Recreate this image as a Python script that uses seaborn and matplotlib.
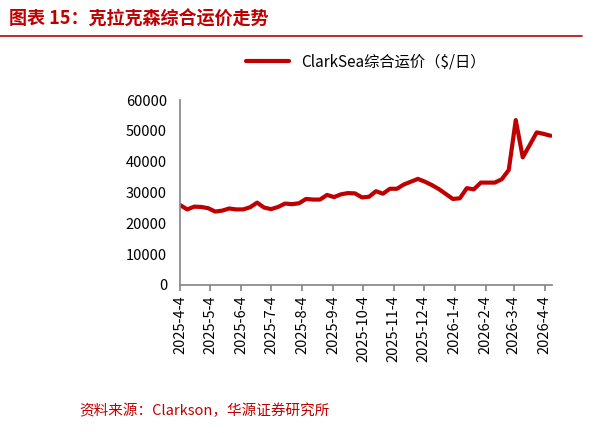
import numpy as np
import pandas as pd
import matplotlib
matplotlib.use("Agg")
import matplotlib.pyplot as plt
import seaborn as sns

# ── data ──────────────────────────────────────────────────────────────────────
dates = pd.date_range("2025-04-04", periods=54, freq="7D")
values = [25900, 24500, 25400, 25300, 24900, 23800, 24100, 24800, 24500, 24500,
          25200, 26700, 25100, 24600, 25300, 26400, 26200, 26500, 27900, 27700,
          27700, 29200, 28500, 29400, 29800, 29700, 28400, 28600, 30400, 29600,
          31200, 31200, 32600, 33500, 34400, 33500, 32400, 31100, 29500, 27900,
          28100, 31400, 31000, 33200, 33200, 33200, 34300, 37300, 53500, 41400,
          45400, 49500, 49000, 48400]
tick_labels = ["2025-4-4", "2025-5-4", "2025-6-4", "2025-7-4", "2025-8-4",
               "2025-9-4", "2025-10-4", "2025-11-4", "2025-12-4", "2026-1-4",
               "2026-2-4", "2026-3-4", "2026-4-4"]
tick_dates = pd.to_datetime(tick_labels, format="%Y-%m-%d")
series_name = "ClarkSea综合运价（$/日）"

df = pd.DataFrame({"date": dates, "value": values})

sns.set_theme(style="white")
plt.rcParams["font.family"] = ["Noto Sans CJK SC", "DejaVu Sans"]
RED = "#C00000"

fig = plt.figure(figsize=(6.13, 4.33), dpi=100)
ax = fig.add_axes([0.294, 0.342, 0.606, 0.427])
sns.lineplot(data=df, x="date", y="value", ax=ax, color=RED, lw=3, label=series_name)

ax.set_ylim(0, 60000)
ax.set_yticks(range(0, 60001, 10000))
ax.set_xlim(dates[0], dates[-1] + pd.Timedelta(days=1))
ax.set_xticks(tick_dates)
ax.set_xticklabels(tick_labels, rotation=90, fontsize=10.5, color="black")
ax.tick_params(axis="y", labelsize=10.5, labelcolor="black")
ax.tick_params(axis="x", direction="out", length=4, color="#888888", bottom=True)
ax.set_xlabel("")
ax.set_ylabel("")
for s in ["top", "right"]:
    ax.spines[s].set_visible(False)
for s in ["left", "bottom"]:
    ax.spines[s].set_color("#888888")
leg = ax.legend(loc="center", bbox_to_anchor=(0.5, 1.206), frameon=False,
                fontsize=11, handlelength=2.8)
for t in leg.get_texts():
    t.set_color("black")

fig.text(0.015, 0.955, "图表 15：克拉克森综合运价走势", color=RED, fontsize=13,
         fontweight="bold", va="center")
fig.add_artist(plt.Line2D([0, 0.95], [0.918, 0.918], color=RED, lw=1.2))
fig.text(0.13, 0.052, "资料来源：Clarkson，华源证券研究所", color=RED, fontsize=10.5,
         va="center")

fig.savefig("out.png", dpi=100)
